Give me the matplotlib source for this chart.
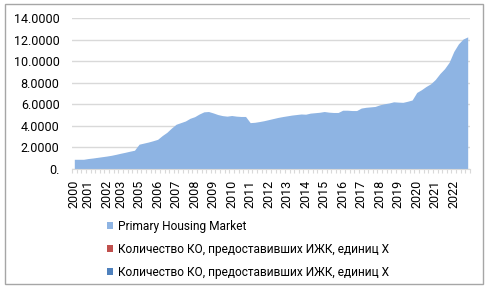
import numpy as np
import matplotlib.pyplot as plt
from matplotlib.patches import Patch, Rectangle

# квартальные значения, 86 точек (2000 - 2022)
primary = [0.90, 0.90, 0.90, 0.97, 1.02, 1.08, 1.14, 1.20, 1.27, 1.36,
           1.46, 1.55, 1.65, 1.74, 2.30, 2.40, 2.50, 2.62, 2.75, 3.10,
           3.40, 3.80, 4.15, 4.30, 4.45, 4.70, 4.85, 5.10, 5.30, 5.33,
           5.20, 5.05, 4.95, 4.90, 4.96, 4.90, 4.87, 4.87, 4.30, 4.33,
           4.40, 4.48, 4.58, 4.68, 4.78, 4.86, 4.93, 5.00, 5.05, 5.10,
           5.08, 5.18, 5.22, 5.26, 5.33, 5.27, 5.24, 5.24, 5.45, 5.45,
           5.42, 5.42, 5.65, 5.72, 5.76, 5.80, 5.95, 6.05, 6.12, 6.23,
           6.20, 6.18, 6.28, 6.40, 7.10, 7.35, 7.65, 7.90, 8.30, 8.85,
           9.30, 9.90, 10.90, 11.60, 12.05, 12.25]
year_labels = ['2000', '2001', '2002', '2003', '2005', '2006', '2007', '2008',
               '2009', '2010', '2011', '2012', '2013', '2014', '2015', '2016',
               '2017', '2018', '2019', '2020', '2021', '2022']
year_pos = [0, 3, 7, 10] + list(range(14, 83, 4))
y_ticks = [0, 2, 4, 6, 8, 10, 12, 14]
y_labels = ['0.', '2.0000', '4.0000', '6.0000', '8.0000', '10.0000', '12.0000', '14.0000']
legend_labels = ['Primary Housing Market',
                 'Количество КО, предоставивших ИЖК, единиц Х',
                 'Количество КО, предоставивших ИЖК, единиц Х']
legend_colors = ['#8EB4E3', '#C0504D', '#4F81BD']

plt.rcParams['font.family'] = ['Roboto', 'DejaVu Sans']
fs = 9

fig = plt.figure(figsize=(4.88, 2.95), dpi=100)
fig.patches.append(Rectangle((5 / 488, 11 / 295), 478 / 488, 280 / 295,
                             transform=fig.transFigure, fill=False,
                             edgecolor='#a6a6a6', linewidth=1))

ax = fig.add_axes([72 / 488, 126 / 295, 398 / 488, 151 / 295])
x = np.arange(len(primary))
ax.fill_between(x, primary, 0, color='#8EB4E3', linewidth=0)

ax.set_xlim(-0.5, len(primary) - 0.5)
ax.set_ylim(0, 14)
ax.set_yticks(y_ticks)
ax.set_yticklabels(y_labels, fontsize=fs)
ax.yaxis.grid(True, color='#d9d9d9', linewidth=1)
ax.set_axisbelow(True)
ax.tick_params(axis='y', length=0, pad=9)

ax.set_xticks(year_pos)
ax.set_xticklabels(year_labels, rotation=90, fontsize=fs)
ax.set_xticks(np.arange(-0.5, len(primary), 1), minor=True)
ax.tick_params(axis='x', which='major', length=0, pad=8)
ax.tick_params(axis='x', which='minor', length=3, color='#d9d9d9', width=0.8)

for s in ['top', 'right', 'left']:
    ax.spines[s].set_visible(False)
ax.spines['bottom'].set_color('#d9d9d9')

handles = [Patch(facecolor=c, edgecolor='none') for c in legend_colors]
fig.legend(handles, legend_labels, loc='upper left',
           bbox_to_anchor=(96 / 488, 1 - 209 / 295), frameon=False,
           fontsize=8.6, handlelength=0.55, handleheight=0.55,
           handletextpad=0.35, labelspacing=0.85)

fig.savefig('out.png', dpi=100)
